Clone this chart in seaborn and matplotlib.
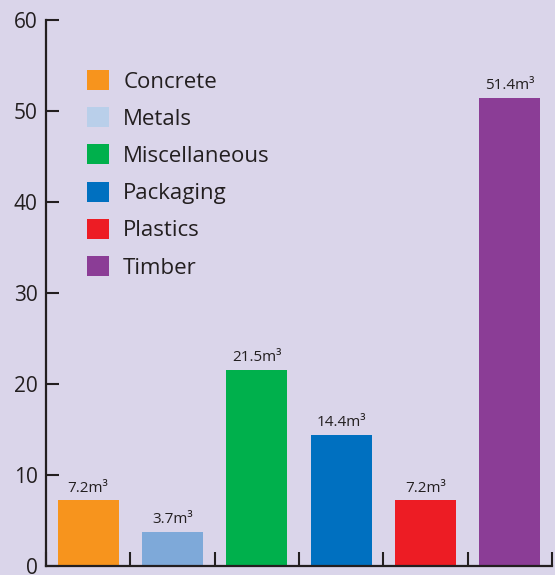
import matplotlib
matplotlib.use('Agg')
import matplotlib.pyplot as plt
from matplotlib.patches import Patch
import seaborn as sns
import pandas as pd

categories = ['Concrete', 'Metals', 'Miscellaneous', 'Packaging', 'Plastics', 'Timber']
volumes = [7.2, 3.7, 21.5, 14.4, 7.2, 51.4]
bar_colors = ['#f7941d', '#7ea9d9', '#00b04c', '#0070c0', '#ed1c24', '#8b3d96']
legend_colors = ['#f7941d', '#b9cfea', '#00b04c', '#0070c0', '#ed1c24', '#8b3d96']
y_ticks = [0, 10, 20, 30, 40, 50, 60]

bg = '#dad5ea'
ink = '#231f20'

sns.set_style('white')
plt.rcParams['font.family'] = ['Open Sans', 'DejaVu Sans']

df = pd.DataFrame({'cat': categories, 'vol': volumes})

fig = plt.figure(figsize=(5.55, 5.75), dpi=100, facecolor=bg)
ax = fig.add_axes([46 / 555, 9 / 575, 506 / 555, 546 / 575])
ax.set_facecolor(bg)

sns.barplot(data=df, x='cat', y='vol', hue='cat', palette=bar_colors,
            width=0.72, legend=False, saturation=1, linewidth=0, ax=ax)

for i, v in enumerate(volumes):
    ax.annotate(f'{v:.1f}m³', (i, v), xytext=(0, 3.5), textcoords='offset points',
                ha='center', va='bottom', fontsize=11, color=ink)

ax.set_xlim(-0.5, 5.5)
ax.set_ylim(0, 60)
ax.set_yticks(y_ticks)
ax.set_xticks([i - 0.5 for i in range(len(categories) + 1)])
ax.set_xticklabels([])
ax.set_xlabel('')
ax.set_ylabel('')
ax.tick_params(axis='y', direction='in', length=9.5, width=1.5, color=ink,
               labelsize=15, labelcolor=ink, pad=6, left=True)
ax.tick_params(axis='x', direction='in', length=10, width=1.5, color=ink, bottom=True)

for side in ['top', 'right']:
    ax.spines[side].set_visible(False)
for side in ['left', 'bottom']:
    ax.spines[side].set_color(ink)
    ax.spines[side].set_linewidth(1.6)

handles = [Patch(facecolor=c, edgecolor='none') for c in legend_colors]
ax.legend(handles, categories, loc='upper left', bbox_to_anchor=(0.0415, 0.945),
          frameon=False, fontsize=16, handlelength=1.0, handleheight=1.0,
          handletextpad=0.63, labelspacing=0.66, labelcolor=ink)

fig.savefig('out.png', dpi=100, facecolor=bg)
